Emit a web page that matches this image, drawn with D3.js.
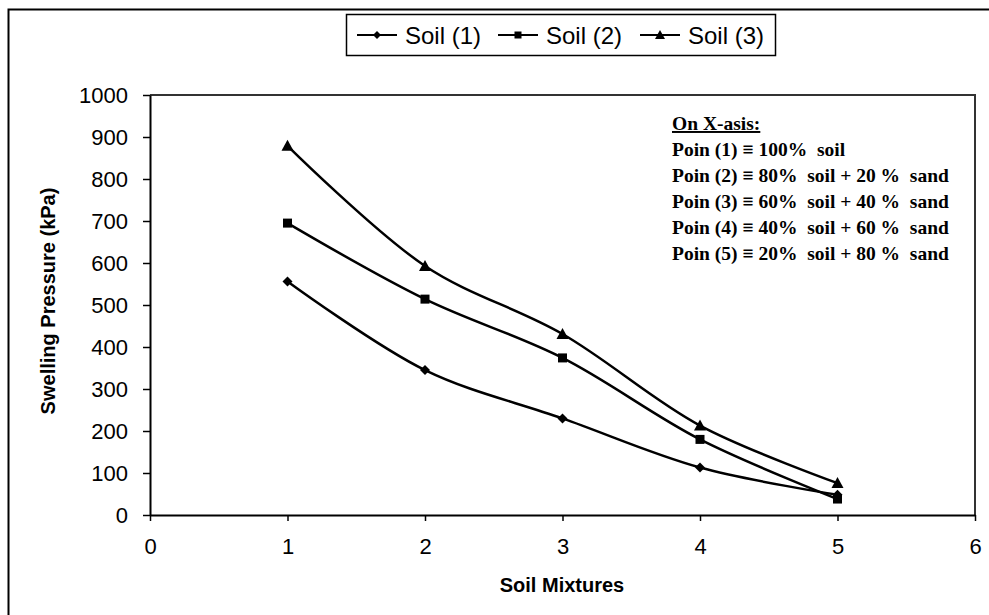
<!DOCTYPE html>
<html>
<head>
<meta charset="utf-8">
<script src="https://cdn.jsdelivr.net/npm/d3@7"></script>
<style>
  body { margin: 0; background: #fff; }
  svg { display: block; }
</style>
</head>
<body>
<svg id="chart" width="989" height="615"></svg>
<script>
// data
const mixtures = [1, 2, 3, 4, 5];
const soil1 = [556, 345, 230, 113, 48];
const soil2 = [695, 514, 374, 180, 38];
const soil3 = [879, 593, 431, 213, 76];
const seriesNames = ['Soil (1)', 'Soil (2)', 'Soil (3)'];
const markerTypes = ['diamond', 'square', 'triangle'];
const xTicks = [0, 1, 2, 3, 4, 5, 6];
const yTicks = [0, 100, 200, 300, 400, 500, 600, 700, 800, 900, 1000];
const noteTitle = 'On X-asis:';
const noteLines = [
  'Poin (1) \u2261 100%  soil',
  'Poin (2) \u2261 80%  soil + 20 %  sand',
  'Poin (3) \u2261 60%  soil + 40 %  sand',
  'Poin (4) \u2261 40%  soil + 60 %  sand',
  'Poin (5) \u2261 20%  soil + 80 %  sand'
];

const svg = d3.select('#chart');
const plot = { left: 150, right: 975, top: 95, bottom: 515 };
const sans = 'Liberation Sans, Arial, sans-serif';

const x = d3.scaleLinear().domain([0, 6]).range([plot.left, plot.right]);
const y = d3.scaleLinear().domain([0, 1000]).range([plot.bottom, plot.top]);

// outer chart frame (cropped on right / bottom in the reference)
svg.append('path')
  .attr('d', 'M8.5,620 L8.5,9.5 L995,9.5')
  .attr('fill', 'none').attr('stroke', '#000').attr('stroke-width', 2);

// plot area top/right border
svg.append('path')
  .attr('d', `M${plot.left},${plot.top} L${plot.right},${plot.top} L${plot.right},${plot.bottom}`)
  .attr('fill', 'none').attr('stroke', '#333').attr('stroke-width', 2);

// axes
const xAxis = d3.axisBottom(x).tickValues(xTicks).tickFormat(d3.format('d'))
  .tickSize(6).tickSizeOuter(0).tickPadding(17);
const yAxis = d3.axisLeft(y).tickValues(yTicks).tickFormat(d3.format('d'))
  .tickSize(7).tickSizeOuter(0).tickPadding(15);

const gx = svg.append('g').attr('transform', `translate(0,${plot.bottom})`).call(xAxis);
const gy = svg.append('g').attr('transform', `translate(${plot.left},0)`).call(yAxis);

[gx, gy].forEach(g => {
  g.attr('font-family', sans).attr('font-size', 22);
  g.select('.domain').attr('stroke', '#000').attr('stroke-width', 2);
  g.selectAll('.tick line').attr('stroke', '#000').attr('stroke-width', 1.5);
  g.selectAll('.tick text').attr('fill', '#000');
});

// axis titles
svg.append('text')
  .attr('x', 562).attr('y', 592)
  .attr('text-anchor', 'middle')
  .attr('font-family', sans)
  .attr('font-size', 20).attr('font-weight', 'bold')
  .text('Soil Mixtures');

svg.append('text')
  .attr('transform', 'translate(55,301) rotate(-90)')
  .attr('text-anchor', 'middle')
  .attr('font-family', sans)
  .attr('font-size', 20).attr('font-weight', 'bold')
  .text('Swelling Pressure (kPa)');

// markers
function drawMarker(g, type, cx, cy, s) {
  if (type === 'diamond') {
    g.append('path').attr('d', `M${cx},${cy - s} L${cx + s},${cy} L${cx},${cy + s} L${cx - s},${cy} Z`);
  } else if (type === 'square') {
    g.append('rect').attr('x', cx - s).attr('y', cy - s).attr('width', 2 * s).attr('height', 2 * s);
  } else {
    g.append('path').attr('d', `M${cx},${cy - s - 1} L${cx + s + 1},${cy + s} L${cx - s - 1},${cy + s} Z`);
  }
}

const allSeries = [soil1, soil2, soil3];
const line = d3.line()
  .x(d => x(d[0]))
  .y(d => y(d[1]))
  .curve(d3.curveCatmullRom.alpha(0.5));

allSeries.forEach((vals, i) => {
  const pts = mixtures.map((m, j) => [m, vals[j]]);
  svg.append('path')
    .datum(pts)
    .attr('d', line)
    .attr('fill', 'none')
    .attr('stroke', '#000')
    .attr('stroke-width', 2.5);
  const mg = svg.append('g').attr('fill', '#000');
  pts.forEach(p => drawMarker(mg, markerTypes[i], x(p[0]), y(p[1]), markerTypes[i] === 'square' ? 4.5 : 5));
});

// legend
const leg = svg.append('g');
leg.append('rect')
  .attr('x', 346.5).attr('y', 14.5).attr('width', 429).attr('height', 41)
  .attr('fill', '#fff').attr('stroke', '#000').attr('stroke-width', 1.5);
const legX = [357, 498, 640];
seriesNames.forEach((name, i) => {
  const lx = legX[i];
  leg.append('line')
    .attr('x1', lx).attr('x2', lx + 40).attr('y1', 35).attr('y2', 35)
    .attr('stroke', '#000').attr('stroke-width', 2);
  const mg = leg.append('g').attr('fill', '#000');
  drawMarker(mg, markerTypes[i], lx + 20, 35, markerTypes[i] === 'square' ? 3.5 : 4);
  leg.append('text')
    .attr('x', lx + 48).attr('y', 44)
    .attr('font-family', sans)
    .attr('font-size', 24)
    .text(name);
});

// annotation block
const note = svg.append('g')
  .attr('font-family', 'Liberation Serif, Times New Roman, serif')
  .attr('font-weight', 'bold')
  .attr('font-size', 19.5);
note.append('text')
  .attr('x', 672).attr('y', 130)
  .attr('text-decoration', 'underline')
  .text(noteTitle);
noteLines.forEach((t, i) => {
  note.append('text')
    .attr('x', 672).attr('y', 156 + i * 26)
    .style('white-space', 'pre')
    .text(t);
});
</script>
</body>
</html>
